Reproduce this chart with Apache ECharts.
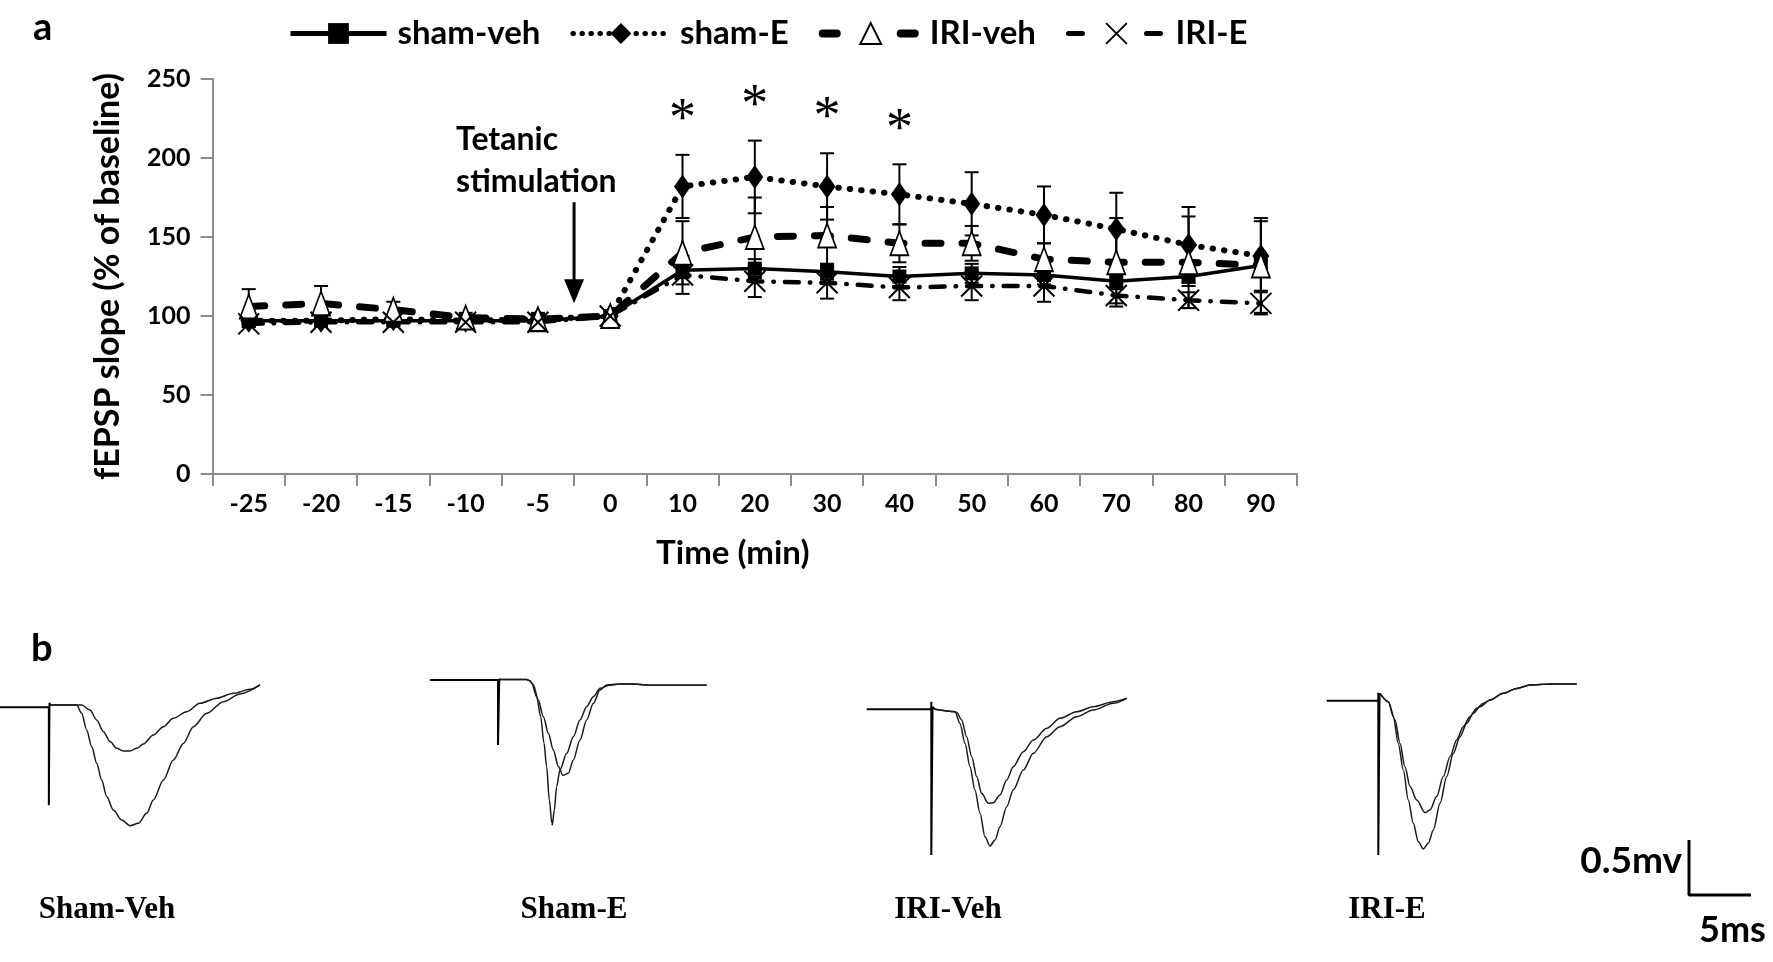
<!DOCTYPE html>
<html><head><meta charset="utf-8">
<script src="https://cdn.jsdelivr.net/npm/echarts@6/dist/echarts.min.js"></script>
<style>html,body{margin:0;padding:0;background:#fff}#c{width:1773px;height:962px}</style>
</head><body><div id="c"></div>
<script>
// ---------- Panel a data ----------
const categories = ['-25','-20','-15','-10','-5','0','10','20','30','40','50','60','70','80','90'];
const shamVeh    = [97,97,97,97,97,100,129,130,128,125,127,126,122,125,132];
const shamVehSem = [2,2,2,2,2,0,5,6,5,6,6,6,5,6,5];
const shamE      = [97,97,98,97,98,100,182,188,182,177,171,164,155,145,138];
const shamESem   = [2,2,2,2,3,0,20,23,21,19,20,18,23,24,22];
const iriVeh     = [106,108,104,99,98,100,140,150,151,146,146,136,134,134,132];
const iriVehSem  = [11,11,5,3,4,0,20,25,18,12,11,10,28,29,30];
const iriE       = [95,96,96,96,96,100,126,122,121,118,119,119,113,110,108];
const iriESem    = [2,2,2,2,2,0,12,10,10,8,9,10,5,5,7];
const sigCats    = ['10','20','30','40'];
const seriesNames = ['sham-veh','sham-E','IRI-veh','IRI-E'];
const arrowFrom = 172, arrowTo = 108;

// ---------- Panel b data (ms, mV) ----------
const traceLabels = ['Sham-Veh','Sham-E','IRI-Veh','IRI-E'];
const stim1 = [[-3.94,0],[0,0],[0,-0.89],[0.05,0.04],[0.1,0.021]];
const t1a = [[0.1,0.021],[1.0,0.021],[2.65,0.021],[3.32,-0.025],[3.86,-0.115],[4.40,-0.222],[4.94,-0.312],[5.47,-0.373],[6.01,-0.397],[6.55,-0.397],[7.09,-0.373],[7.62,-0.334],[8.43,-0.252],[9.24,-0.176],[10.04,-0.100],[11.12,-0.040],[12.19,0.036],[13.54,0.082],[14.88,0.127],[16.23,0.163],[17.03,0.203]];
const t1b = [[0.1,0.021],[1.0,0.021],[2.25,0.021],[2.65,-0.055],[3.05,-0.206],[3.46,-0.358],[3.86,-0.509],[4.26,-0.661],[4.67,-0.812],[5.20,-0.934],[5.88,-1.025],[6.55,-1.076],[7.22,-1.055],[7.89,-0.964],[8.43,-0.843],[9.24,-0.661],[10.04,-0.479],[10.85,-0.328],[11.66,-0.176],[12.73,-0.055],[14.07,0.051],[15.42,0.121],[17.03,0.203]];
const stim2 = [[-5.48,0.006],[0,0.006],[0,-0.585],[0.1,0.012],[0.16,0.012]];
const t2a = [[0.16,0.012],[2.31,0.012],[2.58,0.0],[2.72,-0.024],[3.12,-0.145],[3.44,-0.327],[3.71,-0.569],[3.92,-0.78],[4.14,-1.085],[4.35,-1.297],[4.38,-1.312],[4.54,-1.175],[4.73,-0.963],[5.0,-0.81],[5.54,-0.66],[6.08,-0.509],[6.61,-0.357],[7.15,-0.236],[7.69,-0.145],[8.23,-0.069],[9.03,-0.039],[9.84,-0.030],[10.91,-0.030],[12.53,-0.042],[16.83,-0.042]];
const t2b = [[0.16,0.012],[2.31,0.012],[2.58,0.0],[2.85,-0.039],[3.25,-0.175],[3.66,-0.327],[4.06,-0.478],[4.46,-0.63],[4.87,-0.78],[5.24,-0.86],[5.67,-0.842],[6.08,-0.72],[6.61,-0.539],[7.15,-0.357],[7.69,-0.206],[8.23,-0.085],[8.76,-0.039],[9.84,-0.030],[10.91,-0.030],[12.53,-0.042],[16.83,-0.042]];
const stim3 = [[-5.21,0],[0,0],[0,0.069],[0,-1.325],[0.1,0.02],[0.30,0.0]];
const t3a = [[0.30,0.0],[1.91,-0.022],[2.31,-0.128],[2.72,-0.309],[3.12,-0.522],[3.52,-0.734],[3.93,-0.946],[4.33,-1.158],[4.73,-1.243],[5.14,-1.188],[5.54,-1.067],[6.08,-0.885],[6.61,-0.734],[7.42,-0.552],[8.23,-0.4],[9.31,-0.249],[10.38,-0.158],[11.72,-0.067],[13.06,-0.006],[14.68,0.054],[15.76,0.10]];
const t3b = [[0.30,0.0],[1.91,-0.022],[2.05,-0.030],[2.45,-0.097],[2.85,-0.249],[3.26,-0.431],[3.66,-0.612],[4.06,-0.764],[4.6,-0.855],[5.0,-0.849],[5.54,-0.779],[6.08,-0.643],[6.61,-0.522],[7.42,-0.385],[8.23,-0.279],[9.31,-0.173],[10.38,-0.082],[11.72,-0.022],[13.06,0.024],[14.68,0.069],[15.76,0.10]];
const stim4 = [[-4.16,0],[0,0],[0,0.073],[0,-1.403],[0.1,0.07],[0.14,0.067]];
const t4a = [[0.14,0.067],[0.81,-0.009],[1.21,-0.145],[1.61,-0.388],[2.02,-0.63],[2.42,-0.903],[2.82,-1.115],[3.23,-1.282],[3.63,-1.348],[4.03,-1.297],[4.44,-1.175],[4.98,-0.933],[5.52,-0.69],[6.05,-0.478],[6.59,-0.327],[7.13,-0.206],[7.66,-0.115],[8.20,-0.054],[9.01,0.006],[10.08,0.067],[11.16,0.112],[12.23,0.143],[13.85,0.152],[16.0,0.152]];
const t4b = [[0.14,0.067],[0.81,-0.009],[1.35,-0.175],[1.75,-0.388],[2.15,-0.6],[2.56,-0.78],[3.1,-0.903],[3.77,-1.018],[4.17,-0.994],[4.71,-0.872],[5.24,-0.69],[5.78,-0.509],[6.32,-0.357],[6.85,-0.236],[7.39,-0.145],[7.94,-0.069],[8.47,-0.024],[9.01,0.006],[10.08,0.067],[11.16,0.112],[12.23,0.143],[13.85,0.152],[16.0,0.152]];
const scaleMs = 5, scaleMv = 0.5;

// ---------- layout / style ----------
const FONT = 'Lato, "Open Sans", sans-serif';
const PX_MS = 12.4, PX_MV = 110;
const panels = [
  {stimX:48.8, baseY:707.3, xMin:-3.94, stim:stim1, a:t1a, b:t1b, labelX:107},
  {stimX:498, baseY:680.7, xMin:-6, stim:stim2, a:t2a, b:t2b, labelX:574},
  {stimX:931.3, baseY:709.3, xMin:-6, stim:stim3, a:t3a, b:t3b, labelX:948},
  {stimX:1378.3, baseY:700.7, xMin:-6, stim:stim4, a:t4a, b:t4b, labelX:1387}
];
const X_MAX = 18, Y_MIN = -1.5, Y_MAX = 0.3;

const chart = echarts.init(document.getElementById('c'));

function errData(mean, sem) {
  const out = [];
  mean.forEach((m, i) => { if (sem[i] > 0) out.push([i, m - sem[i], m + sem[i]]); });
  return out;
}
function errorBarItem(params, api) {
  const i = api.value(0);
  const top = api.coord([i, api.value(2)]);
  const bot = api.coord([i, api.value(1)]);
  const w = 7;
  const st = {stroke:'#000', lineWidth:2};
  return {type:'group', children:[
    {type:'line', shape:{x1:top[0], y1:top[1], x2:bot[0], y2:bot[1]}, style:st},
    {type:'line', shape:{x1:top[0]-w, y1:top[1], x2:top[0]+w, y2:top[1]}, style:st},
    {type:'line', shape:{x1:bot[0]-w, y1:bot[1], x2:bot[0]+w, y2:bot[1]}, style:st}
  ]};
}

const grids = [{left:212.6, right:476, top:79, bottom:488}];
const xAxes = [{
  type:'category', data:categories, gridIndex:0, boundaryGap:true,
  axisLine:{lineStyle:{color:'#8c8c8c', width:2}},
  axisTick:{show:true, length:12, lineStyle:{color:'#8c8c8c', width:2}},
  axisLabel:{color:'#000', fontFamily:FONT, fontWeight:'bold', fontSize:25, margin:17},
  name:'Time (min)', nameLocation:'middle', nameGap:63,
  nameTextStyle:{color:'#000', fontFamily:FONT, fontWeight:'bold', fontSize:33, padding:[0,44,0,0]},
  splitLine:{show:false}
}];
const yAxes = [{
  type:'value', gridIndex:0, min:0, max:250, interval:50,
  axisLine:{show:true, lineStyle:{color:'#8c8c8c', width:2}},
  axisTick:{show:true, length:12, lineStyle:{color:'#8c8c8c', width:2}},
  axisLabel:{color:'#000', fontFamily:FONT, fontWeight:'bold', fontSize:25, margin:22},
  splitLine:{show:false},
  name:'fEPSP slope (% of baseline)', nameLocation:'middle', nameGap:88, nameRotate:90,
  nameTextStyle:{color:'#000', fontFamily:FONT, fontWeight:'bold', fontSize:34}
}];

const series = [
  {type:'custom', name:'err-sv', xAxisIndex:0, yAxisIndex:0, renderItem:errorBarItem, data:errData(shamVeh, shamVehSem), z:1, silent:true},
  {type:'custom', name:'err-se', xAxisIndex:0, yAxisIndex:0, renderItem:errorBarItem, data:errData(shamE, shamESem), z:1, silent:true},
  {type:'custom', name:'err-iv', xAxisIndex:0, yAxisIndex:0, renderItem:errorBarItem, data:errData(iriVeh, iriVehSem), z:1, silent:true},
  {type:'custom', name:'err-ie', xAxisIndex:0, yAxisIndex:0, renderItem:errorBarItem, data:errData(iriE, iriESem), z:1, silent:true},
  {type:'line', name:seriesNames[0], data:shamVeh, xAxisIndex:0, yAxisIndex:0, z:3,
   symbol:'rect', symbolSize:14, itemStyle:{color:'#000'},
   lineStyle:{color:'#000', width:3.5, type:'solid'}},
  {type:'line', name:seriesNames[1], data:shamE, xAxisIndex:0, yAxisIndex:0, z:3,
   symbol:'diamond', symbolSize:[17,24], itemStyle:{color:'#000'},
   lineStyle:{color:'#000', width:6, type:[0.5,11], cap:'round'}},
  {type:'line', name:seriesNames[2], data:iriVeh, xAxisIndex:0, yAxisIndex:0, z:3,
   symbol:'triangle', symbolSize:[18,24], itemStyle:{color:'#fff', borderColor:'#000', borderWidth:1.8},
   lineStyle:{color:'#000', width:7, type:[16,21], cap:'round'}},
  {type:'line', name:seriesNames[3], data:iriE, xAxisIndex:0, yAxisIndex:0, z:3,
   symbol:'path://M0 0L20 20M20 0L0 20', symbolSize:21, symbolKeepAspect:true,
   itemStyle:{color:'#fff', borderColor:'#000', borderWidth:2},
   lineStyle:{color:'#000', width:4.5, type:[14,11,0.5,11], cap:'round'}},
  {type:'custom', name:'sig', xAxisIndex:0, yAxisIndex:0, z:4, silent:true,
   data: sigCats.map(c => { const i = categories.indexOf(c); return [i, shamE[i] + shamESem[i]]; }),
   renderItem:(p, api) => {
     const pt = api.coord([api.value(0), api.value(1)]);
     return {type:'text', style:{text:'*', x:pt[0], y:pt[1]-34, fontSize:54, fontFamily:'"Liberation Serif", serif', align:'center', verticalAlign:'middle', fill:'#000'}};
   }}
];

// Panel b grids
panels.forEach((pn, k) => {
  const gi = k + 1;
  grids.push({left: pn.stimX + pn.xMin*PX_MS, top: pn.baseY - Y_MAX*PX_MV,
              width:(X_MAX - pn.xMin)*PX_MS, height:(Y_MAX - Y_MIN)*PX_MV});
  xAxes.push({type:'value', gridIndex:gi, min:pn.xMin, max:X_MAX, show:false});
  yAxes.push({type:'value', gridIndex:gi, min:Y_MIN, max:Y_MAX, show:false});
  const ls = {color:'#1a1a1a', width:1.5};
  series.push({type:'line', xAxisIndex:gi, yAxisIndex:gi, data:pn.stim, symbol:'none', lineStyle:{color:'#000', width:2}, silent:true});
  series.push({type:'line', xAxisIndex:gi, yAxisIndex:gi, data:pn.a, symbol:'none', smooth:0.3, smoothMonotone:'x', lineStyle:ls, silent:true});
  series.push({type:'line', xAxisIndex:gi, yAxisIndex:gi, data:pn.b, symbol:'none', smooth:0.3, smoothMonotone:'x', lineStyle:ls, silent:true});
});
// scale bar grid
grids.push({left:1689, top:840, width:scaleMs*PX_MS, height:scaleMv*PX_MV});
xAxes.push({type:'value', gridIndex:5, min:0, max:scaleMs, show:false});
yAxes.push({type:'value', gridIndex:5, min:0, max:scaleMv, show:false});
series.push({type:'line', xAxisIndex:5, yAxisIndex:5, data:[[0,scaleMv],[0,0],[scaleMs,0]], symbol:'none', clip:false,
  lineStyle:{color:'#000', width:3}, silent:true});

const graphics = [
  {type:'text', left:33, top:9, style:{text:'a', fontFamily:FONT, fontWeight:'bold', fontSize:38, fill:'#000'}},
  {type:'text', left:31, top:630, style:{text:'b', fontFamily:FONT, fontWeight:'bold', fontSize:38, fill:'#000'}},
  {type:'text', right:1773-1682, top:843, style:{text:'0.5mv', fontFamily:FONT, fontWeight:'bold', fontSize:37, fill:'#000'}},
  {type:'text', left:1699, top:912, style:{text:'5ms', fontFamily:FONT, fontWeight:'bold', fontSize:36, fill:'#000'}}
];
panels.forEach((pn, k) => {
  graphics.push({type:'text', x:pn.labelX, y:910, style:{text:traceLabels[k], fontFamily:'"Liberation Serif", serif', fontWeight:'bold', fontSize:31, fill:'#000', align:'center', verticalAlign:'middle'}});
});

chart.setOption({
  backgroundColor:'#fff',
  animation:false,
  legend:{
    data:[
      {name:seriesNames[0], lineStyle:{width:5, type:'solid'}},
      {name:seriesNames[1], lineStyle:{width:5, type:[0.5,8.5], cap:'round'}},
      {name:seriesNames[2], lineStyle:{width:8, type:[14,64], cap:'round'}},
      {name:seriesNames[3], lineStyle:{width:5, type:[14,64], cap:'round'}}
    ],
    left:283, top:12, itemWidth:96, itemHeight:26, itemGap:30,
    selectedMode:false,
    textStyle:{color:'#000', fontFamily:FONT, fontWeight:'bold', fontSize:33, padding:[0,0,0,6]}
  },
  grid:grids, xAxis:xAxes, yAxis:yAxes, series:series, graphic:graphics
});

// Tetanic stimulation arrow between '-5' and '0'
const pA = chart.convertToPixel({xAxisIndex:0, yAxisIndex:0}, [categories.indexOf('-5'), arrowFrom]);
const pB = chart.convertToPixel({xAxisIndex:0, yAxisIndex:0}, [categories.indexOf('0'), arrowTo]);
const ax = (pA[0] + pB[0]) / 2;
const headH = 24, headW = 10;
graphics.push(
  {type:'line', shape:{x1:ax, y1:pA[1], x2:ax, y2:pB[1]-headH+2}, style:{stroke:'#000', lineWidth:3}},
  {type:'polygon', shape:{points:[[ax-headW, pB[1]-headH],[ax+headW, pB[1]-headH],[ax, pB[1]]]}, style:{fill:'#000'}},
  {type:'text', x:ax-118, y:140, style:{text:'Tetanic', fontFamily:FONT, fontWeight:'bold', fontSize:32, fill:'#000', verticalAlign:'middle'}},
  {type:'text', x:ax-118, y:182, style:{text:'stimulation', fontFamily:FONT, fontWeight:'bold', fontSize:32, fill:'#000', verticalAlign:'middle'}}
);
chart.setOption({graphic:graphics});
</script></body></html>
